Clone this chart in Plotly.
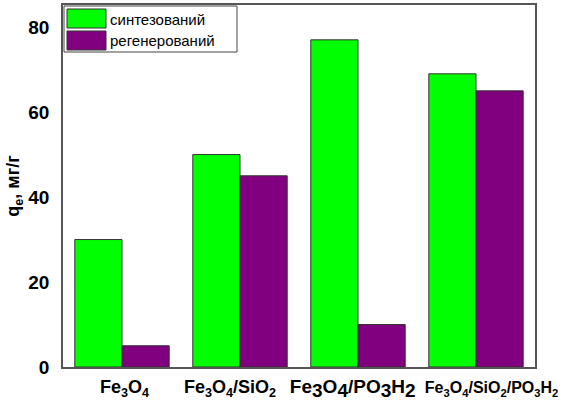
import plotly.graph_objects as go

materials = ["Fe3O4", "Fe3O4/SiO2", "Fe3O4/PO3H2", "Fe3O4/SiO2/PO3H2"]
NB = "\u00a0"
big_sub = "<sub><span style='font-size:19px'>{}</span></sub>"
tick_labels = [
    "<span style='font-size:18px'>" + NB + "Fe<sub>3</sub>O<sub>4</sub></span>",
    "<span style='font-size:18px'>Fe<sub>3</sub>O<sub>4</sub>/SiO<sub>2</sub>" + NB * 4 + "</span>",
    "<span style='font-size:19px'>Fe" + big_sub.format(3) + "O" + big_sub.format(4)
    + "/PO" + big_sub.format(3) + "H" + big_sub.format(2) + NB * 2 + "</span>",
    "<span style='font-size:16px'>" + NB * 7
    + "Fe<sub>3</sub>O<sub>4</sub>/SiO<sub>2</sub>/PO<sub>3</sub>H<sub>2</sub></span>",
]
synthesized = [30, 50, 77, 69]
regenerated = [5, 45, 10, 65]
series_names = ["синтезований", "регенерований"]
series_colors = ["#00ff00", "#800080"]

W, H = 565, 401
L, R, T, B = 63, 30, 5, 34

fig = go.Figure()
for name, vals, color in zip(series_names, [synthesized, regenerated], series_colors):
    fig.add_trace(go.Bar(x=materials, y=vals, name=name, marker_color=color,
                         marker_line=dict(color="#333333", width=1),
                         showlegend=False))


def px_x(p):
    return (p - L) / (W - L - R)


def px_y(p):
    return 1 - (p - T) / (H - T - B)


# legend box drawn by hand to get the large swatches
fig.add_shape(type="rect", xref="paper", yref="paper",
              x0=px_x(64), x1=px_x(237), y0=px_y(52), y1=px_y(6),
              line=dict(color="#444444", width=1), fillcolor="white")
for i, (name, color) in enumerate(zip(series_names, series_colors)):
    top = 9 + i * 22
    fig.add_shape(type="rect", xref="paper", yref="paper",
                  x0=px_x(67), x1=px_x(106), y0=px_y(top + 19), y1=px_y(top),
                  line=dict(color="#333333", width=1), fillcolor=color)
    fig.add_annotation(xref="paper", yref="paper", x=px_x(108), y=px_y(top + 10),
                       text=name, showarrow=False, xanchor="left", yanchor="middle",
                       font=dict(size=15, color="black"))

fig.update_layout(
    width=W, height=H,
    margin=dict(l=L, r=R, t=T, b=B),
    plot_bgcolor="white", paper_bgcolor="white",
    font=dict(family="Liberation Sans, Arial", color="black"),
    barmode="group", bargap=0.2, bargroupgap=0,
)
fig.update_xaxes(tickvals=materials, ticktext=tick_labels, automargin=False, tickangle=0,
                 ticklabelstandoff=3,
                 tickfont=dict(size=18, family="Liberation Sans, Arial", weight="bold"),
                 showline=True, linecolor="#555555", linewidth=1.5, mirror=True,
                 ticks="", showgrid=False)
fig.update_yaxes(range=[0, 85.2], tickvals=[0, 20, 40, 60, 80], automargin=False,
                 ticklabelstandoff=8,
                 tickfont=dict(size=19, family="Liberation Sans, Arial", weight="bold"),
                 title=dict(text="q<sub>e</sub>, мг/г", standoff=4,
                            font=dict(size=18, family="Liberation Sans, Arial", weight="bold")),
                 showline=True, linecolor="#555555", linewidth=1.5, mirror=True,
                 ticks="", showgrid=False, zeroline=False)

fig.write_html("out.html", config={"displayModeBar": False},
               post_script="document.body.style.margin='0px';")
